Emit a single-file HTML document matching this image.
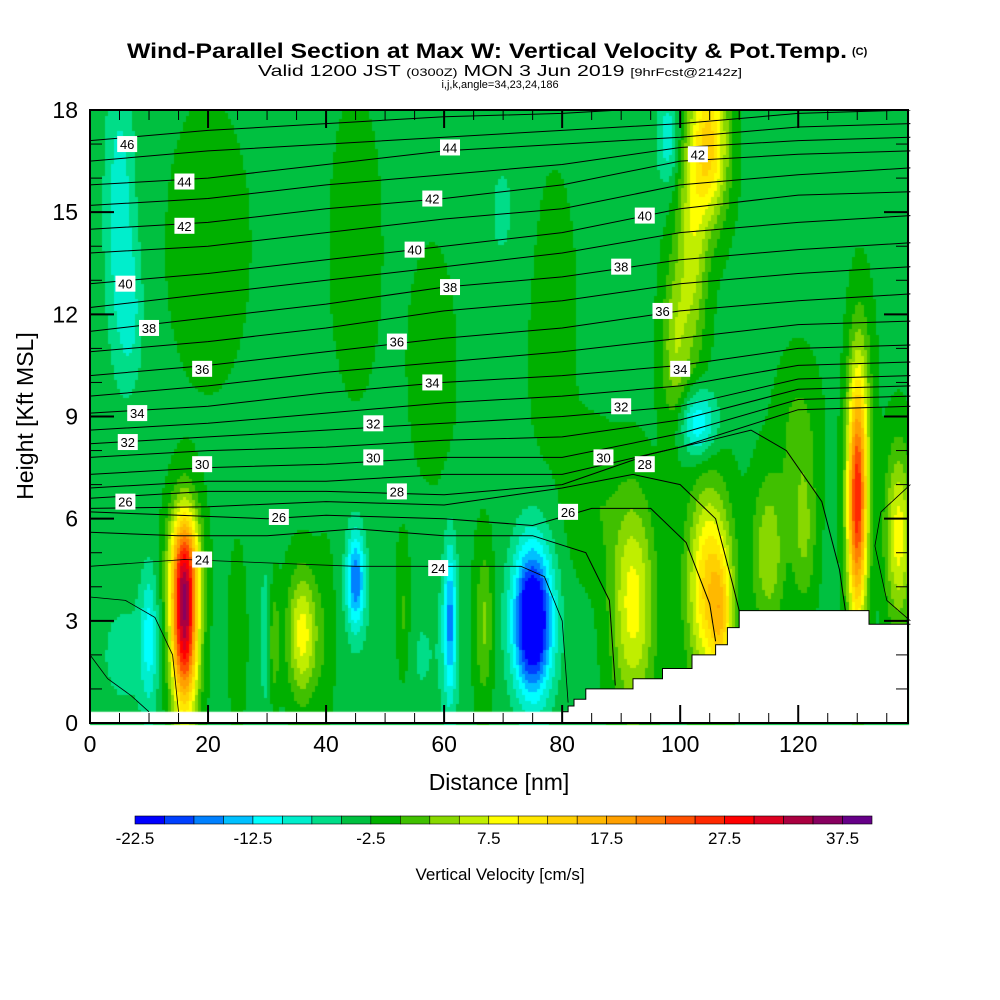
<!DOCTYPE html>
<html><head><meta charset="utf-8">
<style>
html,body{margin:0;padding:0;background:#fff;}
#wrap{position:relative;width:1000px;height:1000px;overflow:hidden;font-family:"Liberation Sans",sans-serif;}
canvas,svg{position:absolute;left:0;top:0;}
</style></head>
<body>
<div id="wrap">
<canvas id="field" width="1000" height="1000"></canvas>
<svg id="svg" width="1000" height="1000"></svg>
</div>
<script>
// ---- data ----
const colorBins = [-22.5,-20,-17.5,-15,-12.5,-10,-7.5,-5,-2.5,0,2.5,5,7.5,10,12.5,15,17.5,20,22.5,25,27.5,30,32.5,35,37.5,40];
const binColors = ["#0000ff","#0040ff","#0080ff","#00c0ff","#00ffff","#00eecc","#00dd88","#00c040","#00b000","#40c000","#88d800","#c0ee00","#ffff00","#ffe800","#ffd000","#ffb800","#ffa000","#ff8000","#ff5000","#ff2800","#ff0000","#dd0020","#aa0040","#880060","#660088"];
const cbLabels = ["-22.5","-12.5","-2.5","7.5","17.5","27.5","37.5"];
const xTicks = [0,20,40,60,80,100,120];
const yTicks = [0,3,6,9,12,15,18];
const baseW = -3.2;
// vertical-velocity features: center x (nm), center z (kft), sx, sz, amplitude (cm/s)
const blobX  = [16,16,10,36,31,45,61,53,75,67,92,105,107,115,121,130,137,103,105,102,99,98,5,7,20,58,70,30,85,120,131,45,78,6,55,25,40,66];
const blobZ  = [2.8,4.8,2.5,2.6,2.4,4.2,3.0,3.0,3.0,3.0,3.5,4.0,3.0,5.0,5.5,6.5,5.5,8.8,17.0,14.0,11.0,17.2,15.0,12.0,14.0,10.5,15.0,2.5,6.5,8.5,10,14,12,2.0,2.0,2.5,2.5,2.5];
const blobSX = [1.6,1.8,1.0,1.8,0.7,1.1,0.8,1.0,2.3,1.0,2.6,2.6,1.2,2.0,1.5,1.2,1.6,2.2,2.2,1.8,1.6,1.4,1.8,1.5,5.0,3.0,3.5,0.8,3,2.5,1.5,3,3,4,6,1.2,1.2,1.2];
const blobSZ = [1.8,1.2,1.4,1.3,1.2,1.0,1.6,1.5,1.5,1.5,2.2,2.0,1.2,1.6,1.5,2.5,1.8,0.7,1.6,2.5,1.8,1.0,3.0,1.5,3.0,2.5,2.5,1.5,1.5,1.5,2,3,3,1.5,1.8,2,2,2];
const blobA  = [34,14,-7,12,7,-14,-12,5,-25,5,12,17,8,8,6,30,12,-10,16,9,7,-6,-6,-4,2,2,-2,-5,3,4,3,2.2,2.2,-2.5,-2,2,2,2];
// potential temperature contours (K) at x nodes
const thNodes = [0,20,40,60,80,100,120,139];
const thLevels = [29,30,31,32,33,34,35,36,37,38,39,40,41,42,43,44,45,46];
const thHeights = [
[6.9,7.1,7.1,7.3,7.3,8.1,9.2,9.3],
[7.3,7.5,7.6,7.8,7.8,8.5,9.5,9.6],
[7.8,8.0,8.1,8.3,8.4,8.9,9.8,9.9],
[8.2,8.4,8.6,8.8,9.0,9.3,10.1,10.2],
[8.6,8.8,9.1,9.4,9.6,9.9,10.5,10.6],
[9.1,9.3,9.7,10.0,10.2,10.5,11.0,11.1],
[9.6,9.9,10.3,10.6,10.9,11.3,11.7,11.8],
[10.2,10.5,10.9,11.3,11.6,12.1,12.4,12.6],
[10.9,11.2,11.6,12.1,12.4,12.9,13.2,13.4],
[11.5,11.9,12.3,12.8,13.1,13.6,13.9,14.1],
[12.2,12.6,13.0,13.4,13.8,14.4,14.7,14.9],
[12.9,13.2,13.6,14.0,14.4,15.1,15.5,15.6],
[13.8,14.0,14.4,14.8,15.1,15.8,16.1,16.3],
[14.5,14.7,15.1,15.4,15.8,16.5,16.7,16.8],
[15.2,15.4,15.8,16.1,16.4,16.9,17.1,17.2],
[15.8,16.0,16.4,16.8,17.0,17.2,17.5,17.6],
[16.5,16.8,17.0,17.2,17.4,17.6,17.9,18.0],
[17.1,17.4,17.6,17.8,17.9,18.1,18.3,18.4]];
const lowContours = [
[[0,6.6],[20,6.8],[40,6.8],[60,6.7],[80,7.0],[95,7.9],[105,8.3],[112,8.6],[118,8.0],[124,6.5],[127,4.5],[128,3.3]],
[[0,6.3],[20,6.35],[40,6.5],[60,6.4],[80,6.9],[92,7.3],[100,7.0],[106,6.0],[109,4.0],[110,3.3]],
[[0,6.2],[15,6.1],[30,6.0],[40,6.1],[60,6.0],[75,5.8],[85,6.3],[95,6.3],[101,5.3],[105,3.5],[106,2.4]],
[[0,5.6],[15,5.5],[30,5.5],[45,5.7],[60,5.5],[75,5.5],[84,5.0],[88,3.6],[89,1.1]],
[[0,4.6],[16,4.8],[30,4.7],[45,4.6],[55,4.6],[62,4.6],[73,4.6],[77,4.3],[80,3.0],[81,0.6]],
[[0,3.7],[6,3.6],[11,3.1],[14,2.0],[15,0.33]],
[[0,2.0],[3,1.3],[7,0.8],[10,0.33]],
[[139,3.0],[135,3.6],[133,5.2],[134,6.2],[139,7.0]],
[[130,3.3],[129,2.5]]];
const thLabelText = ["46","44","44","42","42","42","40","40","40","38","38","38","36","36","36","34","34","34","32","32","32","30","30","30","28","28","26","26","26","24","24"];
const thLabelX = [6.3,16,61,16,58,103,6,55,94,10,61,90,19,52,97,8,58,100,6.4,48,90,19,48,87,52,94,6,32,81,19,59];
const thLabelZ = [17.0,15.9,16.9,14.6,15.4,16.7,12.9,13.9,14.9,11.6,12.8,13.4,10.4,11.2,12.1,9.1,10.0,10.4,8.25,8.8,9.3,7.6,7.8,7.8,6.8,7.6,6.5,6.05,6.2,4.8,4.55];
const terrX = [80,81,82,84,87,90,92,95,97,100,102,104,106,107,108,110,132,132,139];
const terrZ = [0.33,0.5,0.7,1.0,1.0,1.0,1.3,1.3,1.6,1.6,2.0,2.0,2.3,2.3,2.8,3.3,3.3,2.9,2.9];

// ---- axes ----
const X0=90,X1=908,Y0=723,Y1=110,XMAX=138.6,ZMAX=18;
const sx=v=>X0+v*(X1-X0)/XMAX;
const sy=v=>Y0-v*(Y0-Y1)/ZMAX;
const ns="http://www.w3.org/2000/svg";
const svg=document.getElementById('svg');
function mk(tag,attrs,parent){const e=document.createElementNS(ns,tag);for(const k in attrs)e.setAttribute(k,attrs[k]);(parent||svg).appendChild(e);return e;}

// ---- field ----
const cv=document.getElementById('field').getContext('2d');
function wAt(x,z){let w=baseW;for(let i=0;i<blobX.length;i++){const dx=(x-blobX[i])/blobSX[i],dz=(z-blobZ[i])/blobSZ[i];w+=blobA[i]*Math.exp(-0.5*(dx*dx+dz*dz));}return w;}
function colorOf(w){for(let i=0;i<binColors.length;i++){if(w<colorBins[i+1])return binColors[i];}return binColors[binColors.length-1];}
const step=3;
for(let px=X0;px<X1;px+=step){for(let py=Y1;py<Y0;py+=step){
  const x=(px+step/2-X0)*XMAX/(X1-X0), z=(Y0-py-step/2)*ZMAX/(Y0-Y1);
  cv.fillStyle=colorOf(wAt(x,z));cv.fillRect(px,py,step,step);
}}
cv.fillStyle="#fff";cv.fillRect(X0,sy(0.33),X1-X0,Y0-sy(0.33));

const gLines=mk('g',{fill:'none',stroke:'#000','stroke-width':'1'});
thLevels.forEach((lv,i)=>{
  const d=thNodes.map((x,j)=>(j?'L':'M')+sx(x).toFixed(1)+','+sy(thHeights[i][j]).toFixed(1)).join('');
  const p=mk('path',{d:d},gLines);
  
  
});
lowContours.forEach((pts,i)=>{
  const d=pts.map((q,j)=>(j?'L':'M')+sx(q[0]).toFixed(1)+','+sy(q[1]).toFixed(1)).join('');
  const p=mk('path',{d:d,'stroke-width':i>3?'0.8':'1'},gLines);
  
  
});
mk('rect',{x:0,y:0,width:1000,height:Y1,fill:'#fff'});
let td='M'+sx(terrX[0])+','+sy(0);
for(let i=0;i<terrX.length;i++){td+='L'+sx(terrX[i]).toFixed(1)+','+sy(i?terrZ[i-1]:terrZ[0]).toFixed(1)+'L'+sx(terrX[i]).toFixed(1)+','+sy(terrZ[i]).toFixed(1);}
td+='L'+X1+','+sy(terrZ[terrZ.length-1]).toFixed(1)+'L'+X1+','+Y0+'L'+sx(terrX[0])+','+Y0+'Z';
const tp=mk('path',{d:td,fill:'#fff',stroke:'#000','stroke-width':'1'});


const gLab=mk('g',{});
thLabelText.forEach((t,i)=>{
  const cx=sx(thLabelX[i]),cy=sy(thLabelZ[i]);
  mk('rect',{x:cx-10,y:cy-8,width:20,height:16,fill:'#fff'},gLab);
  const tx=mk('text',{x:cx,y:cy+5,'font-size':'13','text-anchor':'middle','font-family':'Liberation Sans, sans-serif'},gLab);
  tx.textContent=t;
  
  
});
mk('rect',{x:X0,y:Y1,width:X1-X0,height:Y0-Y1,fill:'none',stroke:'#000','stroke-width':'2',});
const gT=mk('g',{stroke:'#000','stroke-width':'1',});
for(let v=0;v<=XMAX;v+=5){const M=v%20===0,L=M?18:10;
  mk('line',{x1:sx(v),y1:Y0,x2:sx(v),y2:Y0-L,'stroke-width':M?2:1},gT);
  mk('line',{x1:sx(v),y1:Y1,x2:sx(v),y2:Y1+L,'stroke-width':M?2:1},gT);}
for(let v=0;v<=ZMAX;v+=1){const M=v%3===0,L=M?24:12;
  mk('line',{x1:X0,y1:sy(v),x2:X0+L,y2:sy(v),'stroke-width':M?2:1},gT);
  mk('line',{x1:X1,y1:sy(v),x2:X1-L,y2:sy(v),'stroke-width':M?2:1},gT);}
xTicks.forEach(v=>{const t=mk('text',{x:sx(v),y:752,'font-size':'23','text-anchor':'middle'});t.textContent=v;
  });
yTicks.forEach(v=>{const t=mk('text',{x:78,y:sy(v)+8,'font-size':'23','text-anchor':'end'});t.textContent=v;
  });
const CB0=135,CB1=872,CBY=816,CBH=8,cw=(CB1-CB0)/binColors.length;
const gCB=mk('g',{});
binColors.forEach((c,i)=>{const r=mk('rect',{x:CB0+i*cw,y:CBY,width:cw,height:CBH,fill:c,stroke:'#000','stroke-width':'0.6'},gCB);
  });
cbLabels.forEach((l,i)=>{const t=mk('text',{x:CB0+i*4*cw,y:844,'font-size':'17','text-anchor':'middle'},gCB);t.textContent=l;
  });
</script>
<svg width="1000" height="1000" style="position:absolute;left:0;top:0;pointer-events:none" font-family="Liberation Sans, sans-serif">
<text x="127" y="58" font-size="21" font-weight="bold" textLength="720" lengthAdjust="spacingAndGlyphs">Wind-Parallel Section at Max W: Vertical Velocity &amp; Pot.Temp.</text>
<text x="852" y="55" font-size="11" font-weight="bold">(C)</text>
<text x="258" y="76" font-size="16" textLength="484" lengthAdjust="spacingAndGlyphs">Valid 1200 JST <tspan font-size="11">(0300Z)</tspan> MON 3 Jun 2019 <tspan font-size="11">[9hrFcst@2142z]</tspan></text>
<text x="500" y="88" font-size="11" text-anchor="middle">i,j,k,angle=34,23,24,186</text>
<text x="499" y="790" font-size="23" text-anchor="middle">Distance [nm]</text>
<text x="0" y="0" font-size="23" text-anchor="middle" transform="translate(33,416) rotate(-90)">Height [Kft MSL]</text>
<text x="500" y="880" font-size="17" text-anchor="middle">Vertical Velocity [cm/s]</text>
</svg>
</body></html>
